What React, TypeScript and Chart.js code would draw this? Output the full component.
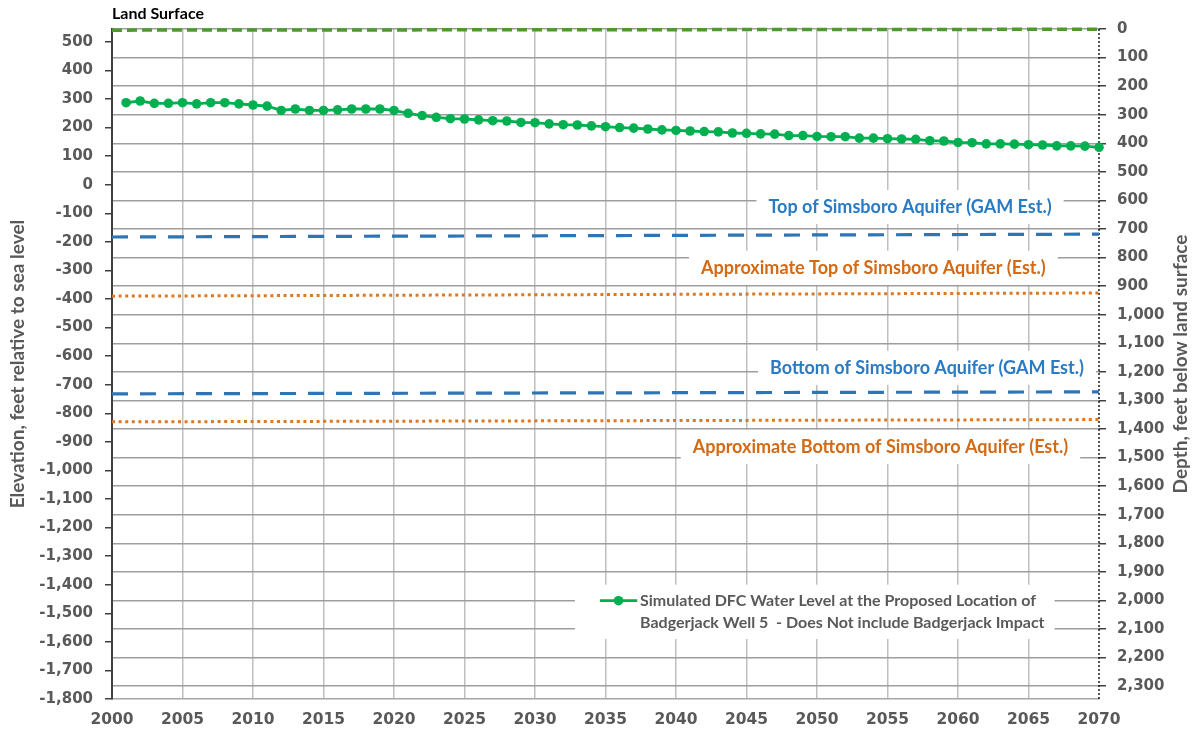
import React, { useEffect, useRef } from "react";
import { Chart, registerables } from "chart.js";

Chart.register(...registerables);

// ---------- data ----------
const years = [
  2001, 2002, 2003, 2004, 2005, 2006, 2007, 2008, 2009, 2010,
  2011, 2012, 2013, 2014, 2015, 2016, 2017, 2018, 2019, 2020,
  2021, 2022, 2023, 2024, 2025, 2026, 2027, 2028, 2029, 2030,
  2031, 2032, 2033, 2034, 2035, 2036, 2037, 2038, 2039, 2040,
  2041, 2042, 2043, 2044, 2045, 2046, 2047, 2048, 2049, 2050,
  2051, 2052, 2053, 2054, 2055, 2056, 2057, 2058, 2059, 2060,
  2061, 2062, 2063, 2064, 2065, 2066, 2067, 2068, 2069, 2070,
];

const waterLevel = [
  287, 293, 285, 285, 287, 283, 287, 287, 283, 279,
  275, 260, 265, 260, 260, 262, 265, 265, 265, 260,
  250, 242, 236, 231, 230, 227, 224, 223, 218, 217,
  213, 210, 209, 206, 203, 200, 198, 195, 192, 190,
  188, 186, 185, 181, 180, 178, 177, 172, 172, 169,
  168, 168, 163, 163, 161, 160, 159, 154, 153, 148,
  147, 143, 143, 142, 140, 139, 136, 136, 135, 131,
];

const refYears = [2000, 2070];
const landSurface = [541, 544];
const topGam = [-183, -173];
const approxTop = [-390, -379];
const bottomGam = [-732, -725];
const approxBottom = [-830, -822];

const xTicks = [2000, 2005, 2010, 2015, 2020, 2025, 2030, 2035, 2040, 2045, 2050, 2055, 2060, 2065, 2070];
const leftTicks = [
  500, 400, 300, 200, 100, 0, -100, -200, -300, -400, -500, -600, -700, -800,
  -900, -1000, -1100, -1200, -1300, -1400, -1500, -1600, -1700, -1800,
];
const rightTicks = [
  0, 100, 200, 300, 400, 500, 600, 700, 800, 900, 1000, 1100, 1200, 1300, 1400,
  1500, 1600, 1700, 1800, 1900, 2000, 2100, 2200, 2300,
];

const labelTexts = [
  "Top of Simsboro Aquifer (GAM Est.)",
  "Approximate Top of Simsboro Aquifer (Est.)",
  "Bottom of Simsboro Aquifer (GAM Est.)",
  "Approximate Bottom of Simsboro Aquifer (Est.)",
];
const legendLines = [
  "Simulated DFC Water Level at the Proposed Location of",
  "Badgerjack Well 5  - Does Not include Badgerjack Impact",
];

// ---------- styles ----------
const GREEN = "#00b050";
const LAND = "#4f9a2e";
const BLUE = "#2e75b6";
const BLUE_TXT = "#2a7ac4";
const ORANGE = "#e0781f";
const ORANGE_TXT = "#d26a16";
const GRAY_TXT = "#595959";
const FONT = "Lato, 'Open Sans', sans-serif";
const TICK_FONT = "'DejaVu Sans', 'Open Sans', sans-serif";

// label anchor positions (year, elevation) for centres of annotation texts
const labelPos = [
  { x: 2056.6, y: -78, color: BLUE_TXT },
  { x: 2054.0, y: -291, color: ORANGE_TXT },
  { x: 2057.8, y: -641, color: BLUE_TXT },
  { x: 2054.5, y: -918, color: ORANGE_TXT },
];

const annotPlugin = {
  id: "annot",
  beforeDatasetsDraw(chart: any) {
    const ctx = chart.ctx as CanvasRenderingContext2D;
    const xs = chart.scales.x;
    const ys = chart.scales.y;
    const area = chart.chartArea;
    ctx.save();
    // dotted right axis line
    ctx.strokeStyle = "#1a1a1a";
    ctx.lineWidth = 1.5;
    ctx.setLineDash([2, 2]);
    ctx.beginPath();
    ctx.moveTo(area.right, area.top);
    ctx.lineTo(area.right, area.bottom);
    ctx.stroke();
    ctx.setLineDash([]);
    // annotation labels with white boxes
    ctx.font = `bold 18px ${FONT}`;
    ctx.textBaseline = "middle";
    ctx.textAlign = "center";
    labelTexts.forEach((t, i) => {
      const p = labelPos[i];
      const cx = xs.getPixelForValue(p.x);
      const cy = ys.getPixelForValue(p.y);
      const w = ctx.measureText(t).width;
      ctx.fillStyle = "#ffffff";
      ctx.fillRect(cx - w / 2 - 12, cy - 17, w + 24, 34);
      ctx.fillStyle = p.color;
      ctx.fillText(t, cx, cy);
    });
    // legend
    const lx0 = xs.getPixelForValue(2034.6);
    const lx1 = xs.getPixelForValue(2037.25);
    const tx = xs.getPixelForValue(2037.45);
    const ly1 = ys.getPixelForValue(-1456);
    const ly2 = ys.getPixelForValue(-1534);
    ctx.font = `bold 16px ${FONT}`;
    const tw = Math.max(...legendLines.map((l) => ctx.measureText(l).width));
    ctx.fillStyle = "#ffffff";
    ctx.fillRect(lx0 - 25, ly1 - 16, tx + tw + 10 - (lx0 - 25), ly2 - ly1 + 32);
    ctx.strokeStyle = GREEN;
    ctx.lineWidth = 2.8;
    ctx.beginPath();
    ctx.moveTo(lx0, ly1);
    ctx.lineTo(lx1, ly1);
    ctx.stroke();
    ctx.fillStyle = GREEN;
    ctx.beginPath();
    ctx.arc((lx0 + lx1) / 2, ly1, 4.8, 0, Math.PI * 2);
    ctx.fill();
    ctx.fillStyle = GRAY_TXT;
    ctx.textAlign = "left";
    ctx.fillText(legendLines[0], tx, ly1);
    ctx.fillText(legendLines[1], tx, ly2);
    ctx.restore();
  },
  afterDraw(chart: any) {
    const ctx = chart.ctx as CanvasRenderingContext2D;
    const area = chart.chartArea;
    ctx.save();
    ctx.textBaseline = "middle";
    ctx.fillStyle = "#000000";
    ctx.font = `bold 16px ${FONT}`;
    ctx.textAlign = "left";
    ctx.fillText("Land Surface", area.left, 14);
    const cy = (area.top + area.bottom) / 2;
    ctx.fillStyle = GRAY_TXT;
    ctx.textAlign = "center";
    ctx.font = `bold 19px ${FONT}`;
    ctx.translate(18, cy);
    ctx.rotate(-Math.PI / 2);
    ctx.fillText("Elevation, feet relative to sea level", 0, 0);
    ctx.restore();
    ctx.save();
    ctx.textBaseline = "middle";
    ctx.textAlign = "center";
    ctx.fillStyle = GRAY_TXT;
    ctx.font = `bold 19px ${FONT}`;
    ctx.translate(1181, cy);
    ctx.rotate(-Math.PI / 2);
    ctx.fillText("Depth, feet below land surface", 0, 0);
    ctx.restore();
  },
};

function refSet(vals: number[], color: string, dash: number[], width: number) {
  return {
    data: refYears.map((x, i) => ({ x, y: vals[i] })),
    borderColor: color,
    backgroundColor: color,
    borderWidth: width,
    borderDash: dash,
    borderCapStyle: "butt",
    pointRadius: 0,
    clip: false,
    yAxisID: "y",
    xAxisID: "x",
  };
}

export default function App() {
  const ref = useRef<HTMLCanvasElement>(null);
  useEffect(() => {
    const canvas = ref.current!;
    const chart = new Chart(canvas, {
      type: "line",
      data: {
        datasets: [
          refSet(landSurface, LAND, [10, 5], 3.5) as any,
          refSet(topGam, BLUE, [16, 12], 3.2) as any,
          refSet(approxTop, ORANGE, [3, 3.6], 3) as any,
          refSet(bottomGam, BLUE, [16, 12], 3.2) as any,
          refSet(approxBottom, ORANGE, [3, 3.6], 3) as any,
          {
            data: years.map((x, i) => ({ x, y: waterLevel[i] })),
            borderColor: GREEN,
            backgroundColor: GREEN,
            borderWidth: 2.8,
            pointRadius: 4.8,
            pointBorderWidth: 0,
            pointBackgroundColor: GREEN,
            clip: false,
            yAxisID: "y",
            xAxisID: "x",
          } as any,
        ],
      },
      options: {
        responsive: false,
        animation: false,
        events: [],
        layout: { padding: { top: 29, left: 0, right: 0, bottom: 0 } },
        plugins: { legend: { display: false }, tooltip: { enabled: false } },
        scales: {
          x: {
            type: "linear",
            position: "bottom",
            min: 2000,
            max: 2070,
            afterBuildTicks: (s: any) => {
              s.ticks = xTicks.map((v) => ({ value: v }));
            },
            afterFit: (s: any) => {
              s.height = 41;
            },
            ticks: {
              autoSkip: false,
              maxRotation: 0,
              padding: 12,
              color: GRAY_TXT,
              font: { family: TICK_FONT, size: 15.5, weight: "bold" },
              callback: (v: any) => String(v),
            },
            grid: {
              drawTicks: false,
              lineWidth: 1.5,
              color: (c: any) =>
                c.tick && (c.tick.value === 2000 || c.tick.value === 2070)
                  ? "rgba(0,0,0,0)"
                  : "#bfbfbf",
            },
            border: { color: "#a6a6a6", width: 1.5 },
          },
          y: {
            type: "linear",
            position: "left",
            min: -1800,
            max: 545,
            afterBuildTicks: (s: any) => {
              s.ticks = leftTicks.map((v) => ({ value: v }));
            },
            afterFit: (s: any) => {
              s.width = 112;
            },
            ticks: {
              autoSkip: false,
              padding: 12,
              color: GRAY_TXT,
              font: { family: TICK_FONT, size: 15, weight: "bold" },
              callback: (v: any) => Number(v).toLocaleString("en-US"),
            },
            grid: {
              drawOnChartArea: false,
              drawTicks: true,
              tickLength: 7,
              color: "#404040",
              lineWidth: 1.5,
            },
            border: { color: "#404040", width: 2 },
          },
          y2: {
            type: "linear",
            position: "right",
            reverse: true,
            min: 0,
            max: 2345,
            afterBuildTicks: (s: any) => {
              s.ticks = rightTicks.map((v) => ({ value: v }));
            },
            afterFit: (s: any) => {
              s.width = 93;
            },
            ticks: {
              autoSkip: false,
              padding: 11,
              color: GRAY_TXT,
              font: { family: TICK_FONT, size: 15, weight: "bold" },
              callback: (v: any) => Number(v).toLocaleString("en-US"),
            },
            grid: {
              drawOnChartArea: true,
              drawTicks: true,
              tickLength: 7,
              color: "#9e9e9e",
              tickColor: "#404040",
              lineWidth: 1.5,
            },
            border: { display: false },
          },
        },
      } as any,
      plugins: [annotPlugin],
    });
    return () => chart.destroy();
  }, []);
  return (
    <div
      style={{
        position: "absolute",
        left: 0,
        top: 0,
        width: 1192,
        height: 740,
        background: "#ffffff",
      }}
    >
      <canvas
        ref={ref}
        width={1192}
        height={740}
        style={{ display: "block", width: 1192, height: 740 }}
      />
    </div>
  );
}
